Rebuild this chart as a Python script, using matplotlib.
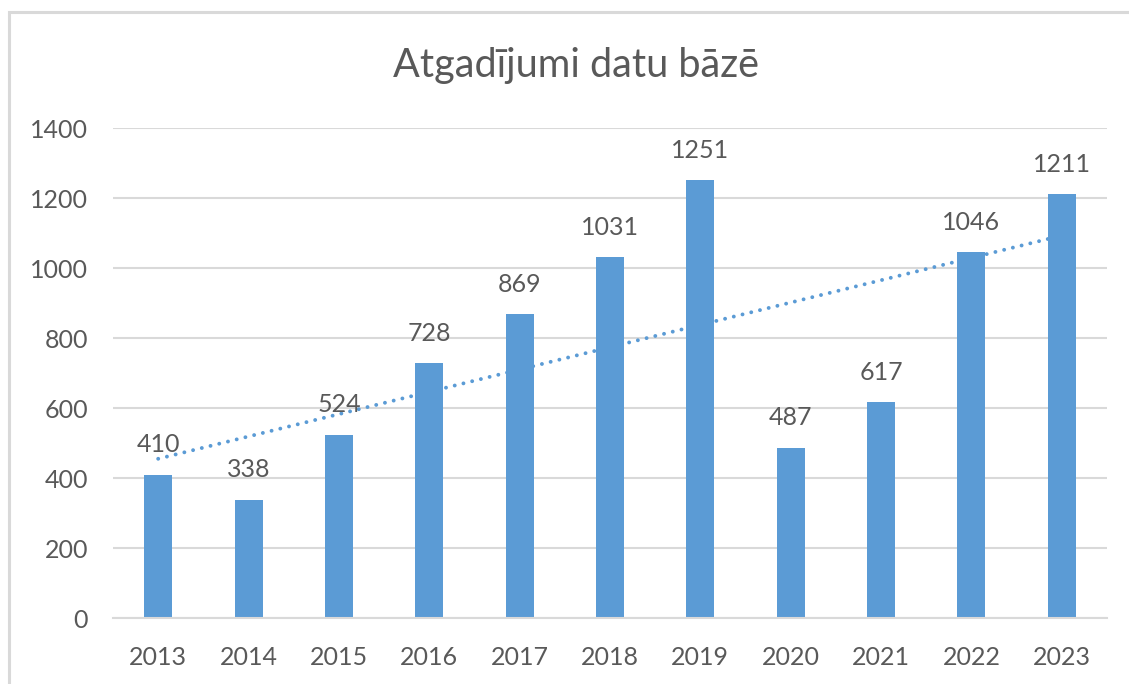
import numpy as np
import matplotlib
matplotlib.use("Agg")
import matplotlib.pyplot as plt
from matplotlib.patches import Rectangle

years = ["2013", "2014", "2015", "2016", "2017", "2018", "2019", "2020", "2021", "2022", "2023"]
cases = [410, 338, 524, 728, 869, 1031, 1251, 487, 617, 1046, 1211]
y_ticks = [0, 200, 400, 600, 800, 1000, 1200, 1400]

bar_color = "#5B9BD5"
text_color = "#595959"
grid_color = "#D9D9D9"

plt.rcParams["font.family"] = ["Lato", "DejaVu Sans"]

W, H = 1129, 684
fig = plt.figure(figsize=(W / 100, H / 100), dpi=100)

# plot area in pixels
left, right, top, bottom = 113, 1107, 128, 618
ax = fig.add_axes([left / W, (H - bottom) / H, (right - left) / W, (bottom - top) / H])

x = np.arange(len(years))
ax.bar(x, cases, width=0.31, color=bar_color, zorder=2)

# linear trendline (dotted)
coef = np.polyfit(x + 1, cases, 1)
trend = np.polyval(coef, x + 1)
ax.plot(x, trend, color=bar_color, lw=2.8, linestyle=(0, (0.01, 2.3)),
        dash_capstyle="round", zorder=3)

for xi, v in zip(x, cases):
    ax.annotate(str(v), (xi, v), xytext=(0, 16), textcoords="offset points",
                ha="center", va="baseline", fontsize=18, color=text_color)

ax.set_xlim(-0.5, len(years) - 0.5)
ax.set_ylim(0, 1400)
ax.set_yticks(y_ticks)
ax.set_xticks(x)
ax.set_xticklabels(years)
ax.tick_params(axis="both", length=0, labelsize=18, labelcolor=text_color)
ax.tick_params(axis="x", pad=20)
ax.tick_params(axis="y", pad=18)
ax.grid(axis="y", color=grid_color, lw=1.5, zorder=0)
ax.set_axisbelow(True)
for s in ["top", "right", "left"]:
    ax.spines[s].set_visible(False)
ax.spines["bottom"].set_color(grid_color)
ax.spines["bottom"].set_linewidth(1.5)

fig.text(576 / W, (H - 77) / H, "Atgadījumi datu bāzē", ha="center", va="baseline",
         fontsize=28.5, color=text_color)

# chart border (left and top visible, rest cropped)
fig.patches.append(Rectangle((9 / W, -0.1), 1.2, (H - 12) / H + 0.1,
                             transform=fig.transFigure, fill=False,
                             edgecolor=grid_color, lw=2.2))

fig.savefig("out.png", dpi=100)
